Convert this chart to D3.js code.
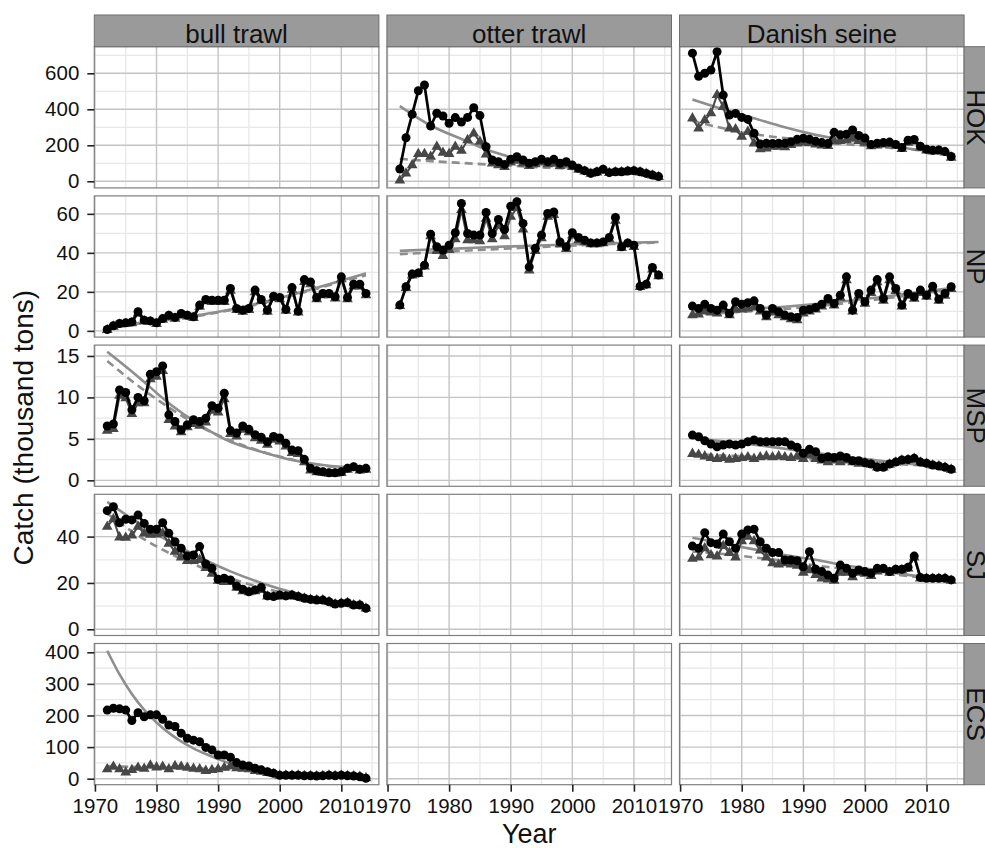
<!DOCTYPE html>
<html><head><meta charset="utf-8">
<script src="https://cdn.jsdelivr.net/npm/d3@7"></script>
<style>
body{margin:0;background:#fff;}
svg text{font-family:"Liberation Sans",Arial,Helvetica,sans-serif;fill:#111;}
</style>
</head><body>
<svg id="chart" width="985" height="848"></svg>
<script>
// ---------- data ----------
const years = d3.range(1972, 2015);
const gears = ["bull trawl", "otter trawl", "Danish seine"];
const stocks = ["HOK", "NP", "MSP", "SJ", "ECS"];
const xTicks = [1970, 1980, 1990, 2000, 2010];
const xMinor = [1975, 1985, 1995, 2005, 2015];
const yTicksHOK = [0, 200, 400, 600];
const yTicksNP = [0, 20, 40, 60];
const yTicksMSP = [0, 5, 10, 15];
const yTicksSJ = [0, 20, 40];
const yTicksECS = [0, 100, 200, 300, 400];
const fitYears = [1972, 1977, 1982, 1987, 1992, 1997, 2002, 2007, 2014];
const fitYearsECS = [1972, 1974, 1976, 1978, 1980, 1982, 1984, 1986, 1988, 1990, 1992];
const fitYearsECSAlt = [1972, 1977, 1982, 1987, 1992];

// HOK
const hokOtterObs = [68,242,372,503,535,307,378,363,322,354,329,355,409,365,192,118,109,94,122,137,118,100,109,122,109,122,100,109,90,72,59,44,53,67,48,53,53,57,59,53,44,35,26];
const hokOtterAlt = [5,44,90,152,152,137,192,159,152,192,170,229,266,220,150,100,90,80,105,115,100,85,95,105,95,100,85,95,80,65,55,42,50,62,46,50,50,54,56,50,42,33,24];
const hokOtterFit = [418,310,235,165,118,88,66,52,38];
const hokOtterFitAlt = [125,112,102,92,83,74,65,56,46];
const hokDanishObs = [712,583,600,618,720,479,368,377,355,344,267,207,211,210,211,211,220,233,239,233,222,215,210,272,258,262,285,255,240,205,212,215,218,205,188,228,232,195,178,172,174,165,138];
const hokDanishAlt = [350,294,340,378,480,414,294,289,248,276,211,178,183,192,192,190,202,210,215,212,205,200,196,222,225,228,240,225,215,195,200,205,208,198,180,215,222,188,172,166,168,160,132];
const hokDanishFit = [455,400,350,300,258,228,203,182,152];
const hokDanishFitAlt = [335,295,262,240,222,206,192,178,158];
// NP
const npBullObs = [0.7,2.6,3.8,4.1,4.6,9.8,5.5,5.1,4.1,6.3,8.0,6.9,8.9,8.0,7.2,13.2,16.1,15.7,15.7,15.7,21.7,11.5,10.6,11.5,20.9,16.1,10.6,17.8,17.1,11.0,22.2,10.1,26.3,25.1,17.1,19.2,19.2,17.5,27.7,17.1,23.9,23.9,19.2];
const npBullAlt = [0.5,2.2,3.3,3.6,4.0,9.0,5.0,4.6,3.6,5.7,7.4,6.3,8.2,7.4,6.6,12.4,15.2,14.9,14.9,14.8,20.6,10.8,9.9,10.8,19.9,15.3,9.9,16.9,16.3,10.4,21.1,9.5,25.1,24.0,16.3,18.3,18.3,16.7,26.5,16.3,22.8,22.8,18.3];
const npBullFit = [2.5,4,5.7,8.2,11,14.5,18.5,23,29.5];
const npBullFitAlt = [2.2,3.7,5.4,7.8,10.6,14,18,22.5,28.5];
const npOtterObs = [13.2,22.6,29.1,29.7,33.7,49.6,43.1,41.4,43.9,50.3,65.3,49.9,49.1,49.1,60.7,49.9,57.1,52.0,63.9,66.2,55.1,32.8,42.3,49.1,60.2,61.0,45.6,43.1,50.3,47.9,46.5,45.1,45.1,45.6,47.9,58.1,43.1,45.1,43.9,22.9,23.9,32.5,28.6];
const npOtterAlt = [12.8,22.0,28.5,29.2,33.0,48.5,41.0,38.5,41.5,47.0,62.0,46.5,46.5,46.0,57.5,47.0,54.0,48.5,58.5,63.0,52.0,31.0,41.0,47.5,58.5,59.5,44.5,42.0,49.0,46.5,45.5,44.5,44.5,45.0,47.0,56.5,42.5,44.5,43.0,22.5,23.5,31.5,28.0];
const npOtterFit = [41,41.7,42.3,43,43.5,44,44.5,45,45.6];
const npOtterFitAlt = [39.3,40.2,41.0,41.8,42.6,43.3,44,44.6,45.3];
const npDanishObs = [12.7,11.5,13.7,11.5,10.6,13.2,8.9,14.9,13.7,14.4,15.4,11.5,8.1,11.5,9.8,8.1,7.2,6.9,10.6,11.0,12.0,13.7,16.6,14.0,18.3,27.7,10.6,19.2,14.9,20.9,26.3,16.6,27.7,21.7,13.2,19.2,17.5,20.9,18.3,22.9,16.3,19.2,22.6];
const npDanishAlt = [8.0,8.5,10.0,9.5,9.0,11.0,8.0,11.0,11.0,11.5,12.0,10.0,7.0,9.5,8.0,7.0,6.0,5.5,9.0,10.0,11.0,12.5,15.5,13.0,17.0,26.0,10.0,18.0,14.0,19.5,25.0,15.5,26.0,20.5,12.5,18.0,16.5,19.5,17.5,21.5,15.5,18.0,21.5];
const npDanishFit = [10,10.6,11.4,12.4,13.7,15.3,17.1,19.1,22];
const npDanishFitAlt = [8.5,9.2,10.1,11.2,12.6,14.2,16.1,18.2,21.2];
// MSP
const mspBullObs = [6.55,6.8,10.9,10.6,8.5,10.0,9.6,12.8,13.1,13.8,7.9,7.1,6.1,6.7,7.3,7.1,7.5,9.0,8.7,10.5,6.0,5.7,6.55,6.15,5.5,5.2,4.66,5.3,5.1,4.46,3.65,3.57,2.53,1.45,1.16,1.04,0.92,0.92,1.04,1.45,1.64,1.33,1.45];
const mspBullAlt = [6.0,6.2,10.2,9.9,8.0,9.3,9.3,12.2,12.5,13.2,7.3,6.5,5.8,6.4,6.8,6.6,7.0,8.4,8.2,9.8,5.6,5.3,6.1,5.8,5.1,4.8,4.3,4.9,4.7,4.1,3.3,3.2,2.2,1.2,1.0,0.9,0.8,0.8,0.9,1.3,1.5,1.2,1.3];
const mspBullFit = [15.5,12.5,9.3,6.7,4.66,3.45,2.45,1.85,1.4];
const mspBullFitAlt = [14.4,11.4,8.8,6.5,4.8,3.5,2.5,1.8,1.2];
const mspDanishObs = [5.46,5.26,4.78,4.38,4.05,4.26,4.38,4.26,4.38,4.66,4.86,4.66,4.66,4.66,4.66,4.66,4.26,3.98,3.26,3.74,3.45,2.65,2.85,2.75,2.93,2.75,2.36,2.36,2.12,1.97,1.57,1.57,1.97,2.2,2.45,2.5,2.65,2.2,2.05,1.85,1.73,1.57,1.33];
const mspDanishAlt = [3.2,3.1,2.9,2.7,2.6,2.7,2.5,2.6,2.7,2.8,2.6,2.8,2.9,2.8,2.9,2.8,2.7,2.9,2.6,3.0,2.6,2.4,2.2,2.4,2.2,2.4,2.2,2.0,2.1,1.9,1.55,1.55,1.9,2.15,2.4,2.45,2.6,2.15,2.0,1.8,1.7,1.55,1.3];
const mspDanishFit = [5.1,4.7,4.3,3.8,3.3,2.8,2.4,2.0,1.5];
const mspDanishFitAlt = [3.2,3.0,2.85,2.7,2.5,2.3,2.1,1.9,1.6];
// SJ
const sjBullObs = [51.2,52.9,46.0,47.5,47.2,49.3,45.7,43.2,43.2,46.0,41.4,37.8,35.0,31.6,32.1,35.7,28.2,26.3,21.6,22.0,21.3,18.7,17.3,16.2,17.0,18.1,14.4,14.1,14.8,14.4,14.8,14.1,13.4,12.9,12.6,12.6,11.9,10.9,11.2,11.5,10.5,10.5,9.1];
const sjBullAlt = [44.3,47.5,39.7,39.5,40.5,44.3,41.4,40.8,41.0,41.5,37.0,33.5,31.0,29.5,29.5,30.0,26.5,24.0,21.0,20.5,20.5,18.0,16.5,16.0,16.5,17.0,14.2,14.0,14.5,14.2,14.6,14.0,13.3,12.8,12.5,12.5,11.8,10.8,11.1,11.4,10.4,10.4,9.0];
const sjBullFit = [55,46,38,31,25,20,16,13,10];
const sjBullFitAlt = [50,40.5,33,27,22,18,15,12.5,10];
const sjDanishObs = [35.9,35.0,41.7,37.4,36.8,41.1,37.8,35.0,41.1,42.9,43.2,37.8,35.0,33.1,33.1,29.9,29.9,29.6,27.0,33.5,25.9,24.9,23.4,22.0,27.7,26.3,24.2,25.6,24.9,24.2,26.3,26.3,24.9,25.9,25.9,26.8,31.6,22.4,22.0,22.0,22.0,22.0,21.3];
const sjDanishAlt = [30.5,31.0,35.0,32.0,31.5,36.0,33.0,31.0,38.0,40.0,38.0,34.0,31.0,28.5,28.0,28.5,28.0,27.5,24.5,25.5,23.5,22.0,21.5,21.0,24.5,24.5,22.5,24.5,24.0,23.0,25.0,25.5,24.5,25.5,25.5,26.3,31.0,22.0,21.8,21.8,21.8,21.8,21.0];
const sjDanishFit = [39.5,37,34.5,32,30,27.5,25.5,23.5,21];
const sjDanishFitAlt = [33.5,32.5,31,29.5,27.5,26,24.5,23,21];
// ECS
const ecsBullObs = [217,223,221,217,184,209,196,202,202,188,170,165,144,128,122,117,99,91,75,75,68,51,43,40,33,28,22,17,11,11,11,11,9.5,9.5,8.5,9.5,11,9.5,11,9.5,8.5,6.3,1.3];
const ecsBullAlt = [30,38,30,20,28,35,32,42,36,38,30,40,38,35,32,30,25,28,30,35,40,33,32,30,25,22,18,15,10,10,10,10,9,9,8,9,10,9,10,9,8,6,1.5];
const ecsBullFit = [405,330,268,218,178,145,118,96,78,62,48];
const ecsBullFitAlt = [40,37,34,32,30];

// ---------- layout ----------
const svg = d3.select("#chart");
const left0 = 94.3, top0 = 46.7, pw = 284.6, ph = 141.2, gapX = 8, gapY = 8;
const colX = i => left0 + i * (pw + gapX);
const rowY = j => top0 + j * (ph + gapY);
const rowDomains = [[-36.7, 747.8], [-3.2, 69.2], [-0.72, 16.31], [-2.68, 58.26], [-19, 427.8]];
const rowTicks = [yTicksHOK, yTicksNP, yTicksMSP, yTicksSJ, yTicksECS];

const panels = [
  {r:0,c:1,obs:hokOtterObs,alt:hokOtterAlt,fy:fitYears,fit:hokOtterFit,fya:fitYears,fitAlt:hokOtterFitAlt},
  {r:0,c:2,obs:hokDanishObs,alt:hokDanishAlt,fy:fitYears,fit:hokDanishFit,fya:fitYears,fitAlt:hokDanishFitAlt},
  {r:1,c:0,obs:npBullObs,alt:npBullAlt,fy:fitYears,fit:npBullFit,fya:fitYears,fitAlt:npBullFitAlt},
  {r:1,c:1,obs:npOtterObs,alt:npOtterAlt,fy:fitYears,fit:npOtterFit,fya:fitYears,fitAlt:npOtterFitAlt},
  {r:1,c:2,obs:npDanishObs,alt:npDanishAlt,fy:fitYears,fit:npDanishFit,fya:fitYears,fitAlt:npDanishFitAlt},
  {r:2,c:0,obs:mspBullObs,alt:mspBullAlt,fy:fitYears,fit:mspBullFit,fya:fitYears,fitAlt:mspBullFitAlt},
  {r:2,c:2,obs:mspDanishObs,alt:mspDanishAlt,fy:fitYears,fit:mspDanishFit,fya:fitYears,fitAlt:mspDanishFitAlt},
  {r:3,c:0,obs:sjBullObs,alt:sjBullAlt,fy:fitYears,fit:sjBullFit,fya:fitYears,fitAlt:sjBullFitAlt},
  {r:3,c:2,obs:sjDanishObs,alt:sjDanishAlt,fy:fitYears,fit:sjDanishFit,fya:fitYears,fitAlt:sjDanishFitAlt},
  {r:4,c:0,obs:ecsBullObs,alt:ecsBullAlt,fy:fitYearsECS,fit:ecsBullFit,fya:fitYearsECSAlt,fitAlt:ecsBullFitAlt}
];

const FIT_COL = "#8e8e8e", ALT_COL = "#474747";
const TICK_FONT = 20.5;

for (let r = 0; r < stocks.length; r++) {
  const y = d3.scaleLinear().domain(rowDomains[r]).range([rowY(r) + ph, rowY(r)]);
  const ticks = rowTicks[r];
  const minor = d3.range(ticks.length + 1).map(i => ticks[0] + (i - 0.5) * (ticks[1] - ticks[0]))
    .filter(v => v > rowDomains[r][0] && v < rowDomains[r][1]);
  for (let c = 0; c < gears.length; c++) {
    const x = d3.scaleLinear().domain([1969.9, 2016.1]).range([colX(c), colX(c) + pw]);
    const g = svg.append("g");
    g.append("rect").attr("x", colX(c)).attr("y", rowY(r)).attr("width", pw).attr("height", ph).attr("fill", "#fff");
    g.selectAll(".mx").data(xMinor.filter(v => v < 2016.1)).join("line")
      .attr("x1", d => x(d)).attr("x2", d => x(d)).attr("y1", rowY(r)).attr("y2", rowY(r) + ph)
      .attr("stroke", "#e8e8e8").attr("stroke-width", 1.3);
    g.selectAll(".my").data(minor).join("line")
      .attr("x1", colX(c)).attr("x2", colX(c) + pw).attr("y1", d => y(d)).attr("y2", d => y(d))
      .attr("stroke", "#e8e8e8").attr("stroke-width", 1.3);
    g.selectAll(".Mx").data(xTicks).join("line")
      .attr("x1", d => x(d)).attr("x2", d => x(d)).attr("y1", rowY(r)).attr("y2", rowY(r) + ph)
      .attr("stroke", "#c4c4c4").attr("stroke-width", 1.4);
    g.selectAll(".My").data(ticks).join("line")
      .attr("x1", colX(c)).attr("x2", colX(c) + pw).attr("y1", d => y(d)).attr("y2", d => y(d))
      .attr("stroke", "#c4c4c4").attr("stroke-width", 1.4);

    const p = panels.find(q => q.r === r && q.c === c);
    if (p) {
      const line = d3.line().x((d, i) => x(years[i])).y(d => y(d));
      const fitLine = ys => d3.line().curve(d3.curveMonotoneX).x((d, i) => x(ys[i])).y(d => y(d));
      g.append("path").attr("d", fitLine(p.fy)(p.fit)).attr("fill", "none")
        .attr("stroke", FIT_COL).attr("stroke-width", 2.6);
      g.append("path").attr("d", fitLine(p.fya)(p.fitAlt)).attr("fill", "none")
        .attr("stroke", FIT_COL).attr("stroke-width", 2.6).attr("stroke-dasharray", "8,5");
      g.append("path").attr("d", line(p.alt)).attr("fill", "none")
        .attr("stroke", ALT_COL).attr("stroke-width", 2);
      g.selectAll(".tri").data(p.alt).join("path")
        .attr("d", d3.symbol(d3.symbolTriangle, 50)())
        .attr("transform", (d, i) => `translate(${x(years[i])},${y(d)})`)
        .attr("fill", ALT_COL);
      g.append("path").attr("d", line(p.obs)).attr("fill", "none")
        .attr("stroke", "#000").attr("stroke-width", 2.7);
      g.selectAll(".pt").data(p.obs).join("circle")
        .attr("cx", (d, i) => x(years[i])).attr("cy", d => y(d)).attr("r", 4.5).attr("fill", "#000");
    }
    g.append("rect").attr("x", colX(c)).attr("y", rowY(r)).attr("width", pw).attr("height", ph)
      .attr("fill", "none").attr("stroke", "#7f7f7f").attr("stroke-width", 1.2);

    if (r === stocks.length - 1) {
      const ax = svg.append("g").attr("transform", `translate(0,${rowY(r) + ph})`)
        .call(d3.axisBottom(x).tickValues(xTicks).tickFormat(d3.format("d")).tickSize(7).tickPadding(7));
      ax.select(".domain").remove();
      ax.selectAll(".tick line").attr("stroke", "#222").attr("stroke-width", 1.6);
      ax.selectAll(".tick text").attr("font-size", TICK_FONT).attr("fill", "#111");
    }
  }
  const ay = svg.append("g").attr("transform", `translate(${left0},0)`)
    .call(d3.axisLeft(y).tickValues(ticks).tickSize(7).tickPadding(8));
  ay.select(".domain").remove();
  ay.selectAll(".tick line").attr("stroke", "#222").attr("stroke-width", 1.6);
  ay.selectAll(".tick text").attr("font-size", TICK_FONT).attr("fill", "#111");

  // right strip (clipped at the page edge, as in the original)
  const sx = colX(2) + pw;
  svg.append("rect").attr("x", sx).attr("y", rowY(r)).attr("width", 32).attr("height", ph)
    .attr("fill", "#9a9a9a").attr("stroke", "#6e6e6e").attr("stroke-width", 1);
  svg.append("text").attr("transform", `translate(${sx + 3},${rowY(r) + ph / 2}) rotate(90)`)
    .attr("text-anchor", "middle").attr("font-size", 26).text(stocks[r]);
}

gears.forEach((gName, c) => {
  svg.append("rect").attr("x", colX(c)).attr("y", 15).attr("width", pw).attr("height", top0 - 15)
    .attr("fill", "#9a9a9a").attr("stroke", "#6e6e6e").attr("stroke-width", 1);
  svg.append("text").attr("x", colX(c) + pw / 2).attr("y", 42.5).attr("text-anchor", "middle")
    .attr("font-size", 26).text(gName);
});

const totalW = colX(2) + pw - left0;
svg.append("text").attr("x", left0 + totalW / 2).attr("y", 843).attr("text-anchor", "middle")
  .attr("font-size", 27).text("Year");
svg.append("text").attr("transform", `translate(33,${(top0 + rowY(4) + ph) / 2 + 12}) rotate(-90)`)
  .attr("text-anchor", "middle").attr("font-size", 28).text("Catch (thousand tons)");
</script>
</body></html>
